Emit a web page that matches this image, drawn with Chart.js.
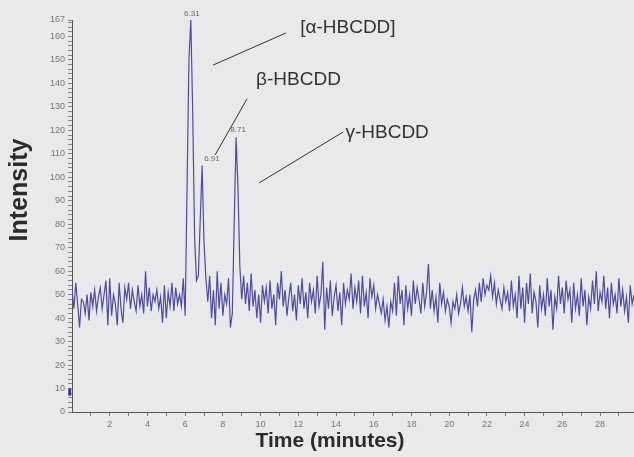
<!DOCTYPE html>
<html>
<head>
<meta charset="utf-8">
<script src="https://cdn.jsdelivr.net/npm/chart.js@4/dist/chart.umd.min.js"></script>
<style>
  html, body { margin: 0; padding: 0; background: #e9e9eb; }
  #wrap { width: 634px; height: 457px; position: relative; }
</style>
</head>
<body>
<div id="wrap"><canvas id="canvas"></canvas></div>
<script>
// minutes between two samples of the trace
const sampleStep = 0.1;

// intensity, 0.0 -> 6.0 min
const baselineBefore = [
  52, 44, 55, 46, 36, 48, 47, 42, 50, 39,
  51, 45, 52, 43, 49, 53, 44, 50, 56, 37,
  57, 41, 50, 46, 37, 55, 44, 38, 53, 48,
  55, 44, 52, 47, 43, 54, 45, 50, 42, 60,
  45, 53, 43, 50, 47, 52, 44, 49, 38, 54,
  40, 51, 45, 55, 43, 53, 46, 50, 45, 57,
  41
];

// 6.1 -> 9.0 min : alpha, beta and gamma peaks
const peakWindow = [
  95, 150, 167, 128, 75, 56, 58, 82, 105, 72,
  57, 47, 58, 40, 52, 37, 60, 44, 55, 41,
  50, 46, 57, 36, 42, 80, 117, 96, 62, 48
];

// 9.1 -> 29.8 min
const baselineAfter = [
  58, 46, 55, 43, 59, 45, 52, 40, 50, 38,
  54, 47, 53, 42, 56, 44, 50, 37, 55, 48,
  60, 45, 52, 41, 49, 55, 43, 50, 39, 54,
  46, 57, 44, 51, 40, 55, 47, 52, 42, 58,
  45, 50, 64, 35, 53, 44, 56, 41, 49, 54,
  43, 51, 37, 55, 46, 52, 48, 59, 44, 53,
  47, 56, 42, 58, 45, 51, 40, 57, 49, 54,
  44, 50, 46, 42, 48, 39, 45, 36, 47, 43,
  55, 41, 58, 46, 52, 37, 54, 44, 50, 41,
  56, 46, 53, 48, 42, 55, 45, 51, 63, 44,
  52, 43, 49, 38, 55, 46, 51, 43, 48, 45,
  38, 47, 44, 50, 42, 46, 53, 45, 49, 43,
  50, 34, 48, 52, 45, 55, 47, 57, 50, 54,
  52, 58, 49, 55, 46, 52, 48, 44, 53, 47,
  51, 43, 56, 45, 50, 40, 58, 44, 53, 38,
  55, 46, 59, 42, 51, 47, 36, 54, 44, 50,
  41, 57, 45, 52, 35, 49, 44, 58, 46, 53,
  42, 56, 48, 52, 38, 55, 44, 50, 41, 57,
  45, 52, 37, 49, 44, 56, 46, 60, 43, 51,
  47, 58, 44, 53, 40, 55, 46, 50, 42, 57,
  45, 52, 43, 49, 38, 54, 46, 50
];

// short blip at the very start, left of the axis
const startBlip = [7, 10];

// peak retention times written on the trace
const peakTimes = ["6.31", "6.91", "8.71"];
const compounds = ["[\u03b1-HBCDD]", "\u03b2-HBCDD", "\u03b3-HBCDD"];

// tick labels
const xTickLabels = [2, 4, 6, 8, 10, 12, 14, 16, 18, 20, 22, 24, 26, 28];
const yTickLabels = [0, 10, 20, 30, 40, 50, 60, 70, 80, 90, 100, 110, 120, 130, 140, 150, 160, 167];

const intensity = baselineBefore.concat(peakWindow, baselineAfter);
const trace = intensity.map((v, i) => ({ x: +(i * sampleStep).toFixed(1), y: v }));

// minor ticks every minute / every 2 units
const xTicks = [];
for (let m = 1; m <= 29; m++) xTicks.push(m);
const yTicks = [];
for (let v = 0; v <= 166; v += 2) yTicks.push(v);
yTicks.push(167);

// callouts, in data units (time, intensity)
const callouts = [
  { text: compounds[0], from: [7.48, 147.8], to: [11.35, 161.5], at: [12.1, 163.6] },
  { text: compounds[1], from: [7.59, 109.5], to: [9.28, 133.4], at: [9.76, 141.5] },
  { text: compounds[2], from: [9.92, 97.6], to: [14.38, 119.3], at: [14.5, 118.9] }
];
const peakMarks = [
  { text: peakTimes[0], t: 6.3, v: 167, dx: 1, dy: -6, align: "center" },
  { text: peakTimes[1], t: 6.9, v: 105, dx: 2, dy: -7, align: "left" },
  { text: peakTimes[2], t: 8.7, v: 117, dx: 2, dy: -8, align: "center" }
];

const annotate = {
  id: "annotate",
  afterDatasetsDraw(chart) {
    const { ctx, scales } = chart;
    const px = (t) => scales.x.getPixelForValue(t);
    const py = (v) => scales.y.getPixelForValue(v);
    ctx.save();

    // retention times
    ctx.font = "8px 'Liberation Sans', Arial, sans-serif";
    ctx.fillStyle = "#6a6a6a";
    ctx.textBaseline = "middle";
    peakMarks.forEach((p) => {
      ctx.textAlign = p.align;
      ctx.fillText(p.text, px(p.t) + p.dx, py(p.v) + p.dy);
    });

    // compound callouts
    ctx.strokeStyle = "#333";
    ctx.lineWidth = 1;
    ctx.fillStyle = "#333";
    ctx.font = "19px 'Liberation Sans', Arial, sans-serif";
    ctx.textAlign = "left";
    callouts.forEach((c) => {
      ctx.beginPath();
      ctx.moveTo(px(c.from[0]), py(c.from[1]));
      ctx.lineTo(px(c.to[0]), py(c.to[1]));
      ctx.stroke();
      ctx.fillText(c.text, px(c.at[0]), py(c.at[1]));
    });

    // axis titles
    ctx.fillStyle = "#2b2b2b";
    ctx.font = "bold 21px 'Liberation Sans', Arial, sans-serif";
    ctx.textAlign = "center";
    ctx.fillText("Time (minutes)", 330, 441);
    ctx.save();
    ctx.font = "bold 25px 'Liberation Sans', Arial, sans-serif";
    ctx.translate(20, 190);
    ctx.rotate(-Math.PI / 2);
    ctx.fillText("Intensity", 0, 0);
    ctx.restore();

    ctx.restore();
  }
};

const ctx = document.getElementById("canvas").getContext("2d");
new Chart(ctx, {
  type: "line",
  data: {
    datasets: [
      {
        data: trace,
        borderColor: "#4f4b9f",
        borderWidth: 1.2,
        pointRadius: 0,
        tension: 0,
        fill: false
      },
      {
        data: startBlip.map((v) => ({ x: -0.12, y: v })),
        borderColor: "#3a3690",
        borderWidth: 3,
        pointRadius: 0,
        clip: false
      }
    ]
  },
  options: {
    responsive: true,
    maintainAspectRatio: false,
    animation: false,
    devicePixelRatio: 1,
    layout: { padding: { top: 20, right: 0, left: 0, bottom: 0 } },
    plugins: { legend: { display: false }, tooltip: { enabled: false } },
    scales: {
      x: {
        type: "linear",
        min: 0,
        max: 29.8,
        afterFit: (scale) => { scale.height = 45; },
        afterBuildTicks: (scale) => { scale.ticks = xTicks.map((v) => ({ value: v })); },
        grid: { drawOnChartArea: false, drawTicks: true, tickLength: 4, tickColor: "#777" },
        border: { display: true, color: "#555", width: 1 },
        ticks: {
          autoSkip: false,
          maxRotation: 0,
          padding: 3,
          color: "#777",
          font: { family: "'Liberation Sans', Arial", size: 9 },
          callback: (v) => (xTickLabels.includes(v) ? String(v) : "")
        }
      },
      y: {
        min: 0,
        max: 167,
        afterFit: (scale) => { scale.width = 72; },
        afterBuildTicks: (scale) => { scale.ticks = yTicks.map((v) => ({ value: v })); },
        grid: { drawOnChartArea: false, drawTicks: true, tickLength: 4, tickColor: "#888" },
        border: { display: true, color: "#555", width: 1 },
        ticks: {
          autoSkip: false,
          padding: 3,
          color: "#777",
          font: { family: "'Liberation Sans', Arial", size: 9 },
          callback: (v) => (yTickLabels.includes(v) ? String(v) : "")
        }
      }
    }
  },
  plugins: [annotate]
});
</script>
</body>
</html>
